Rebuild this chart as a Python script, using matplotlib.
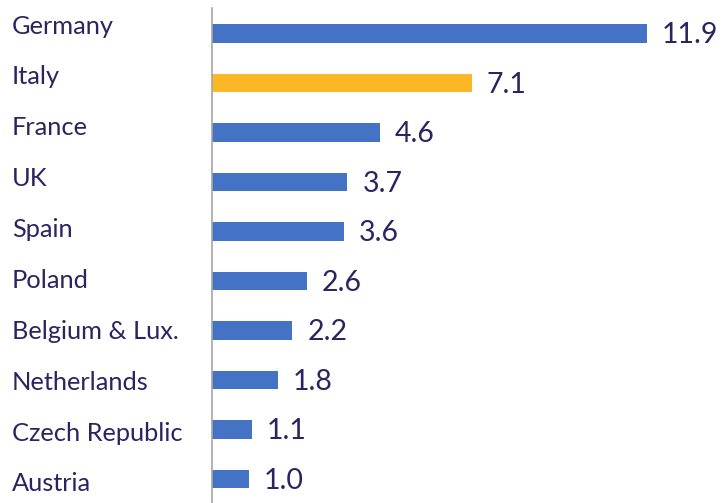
import numpy as np
import matplotlib

matplotlib.use("Agg")
import matplotlib.pyplot as plt
from matplotlib.transforms import blended_transform_factory

countries = ["Germany", "Italy", "France", "UK", "Spain", "Poland",
             "Belgium & Lux.", "Netherlands", "Czech Republic", "Austria"]
values = [11.9, 7.1, 4.6, 3.7, 3.6, 2.6, 2.2, 1.8, 1.1, 1.0]
highlight = "Italy"

C_BAR = "#4472C4"
C_HI = "#FBB726"
C_TXT = "#2E2360"

plt.rcParams["font.family"] = ["Lato", "DejaVu Sans"]

W, H = 722, 503
fig = plt.figure(figsize=(W / 100, H / 100), dpi=100)
# axes spans from the spine (x=212) to the right edge, top at y=8
ax = fig.add_axes([212 / W, 0, 1 - 212 / W, 1 - 8 / H])

pos = np.arange(len(countries))
colors = [C_HI if c == highlight else C_BAR for c in countries]
ax.barh(pos, values, height=0.38, color=colors, zorder=2)

px_per_unit = (647 - 212) / 11.9
ax.set_xlim(0, (W - 212) / px_per_unit)
step = 49.5
ax.set_ylim((H - 8 - 25.5) / step, -25.5 / step)

for p, v in zip(pos, values):
    ax.text(v + 15 / px_per_unit, p + 0.04, f"{v:.1f}", ha="left", va="center",
            fontsize=20.5, color=C_TXT)

# category labels sit on a slightly wider pitch than the bars
lab_tr = blended_transform_factory(fig.transFigure, ax.transData)
lab_pos = -0.15 + pos * (1 + 0.25 / 9)
for lp, c in zip(lab_pos, countries):
    ax.text(12 / W, lp, c, transform=lab_tr, ha="left", va="center",
            fontsize=18.3, color=C_TXT)

ax.set_xticks([])
ax.set_yticks([])
for s in ("top", "right", "bottom"):
    ax.spines[s].set_visible(False)
ax.spines["left"].set_color("#A6A6A6")
ax.spines["left"].set_linewidth(1.2)

fig.savefig("out.png", dpi=100)
